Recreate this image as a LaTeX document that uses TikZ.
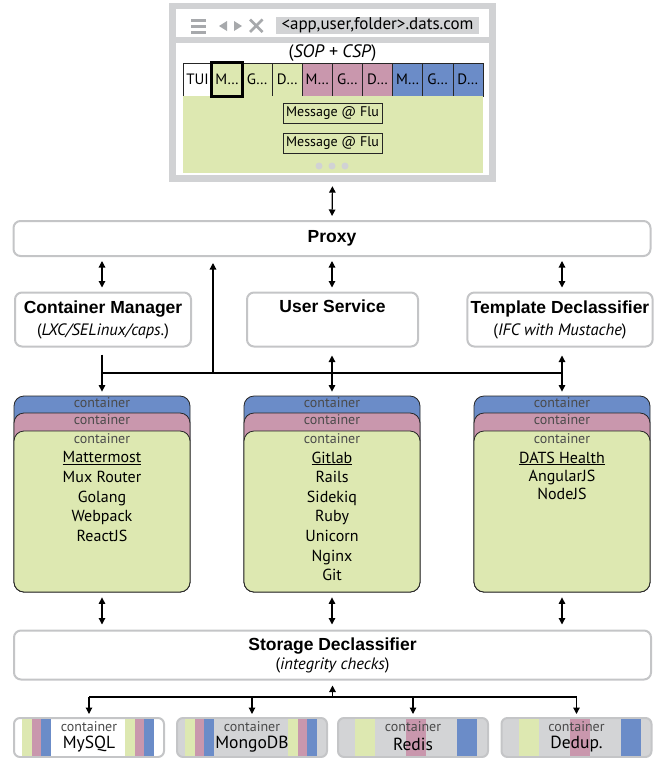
\documentclass[tikz,border=0pt]{standalone}
\usepackage{fontspec}
\setmainfont{PT Sans}
\newfontfamily\hvfont{Liberation Sans}
\usetikzlibrary{arrows.meta}

\definecolor{framegray}{HTML}{D1D2D4}
\definecolor{urlgray}{HTML}{D2D3D5}
\definecolor{icongray}{HTML}{A7A9AC}
\definecolor{boxgray}{HTML}{C4C5C7}
\definecolor{dbgray}{HTML}{D3D4D6}
\definecolor{appgreen}{HTML}{DDE8B1}
\definecolor{apppink}{HTML}{C997AD}
\definecolor{appblue}{HTML}{6B8CC8}
\definecolor{labgray}{HTML}{4A4A4A}

\newcommand{\titlefont}{\hvfont\bfseries\fontsize{17.5}{20}\selectfont}
\newcommand{\subfont}{\fontsize{16.5}{18}\selectfont}
% thin stripes of the sql stores, #1 = left edge of the box
\newcommand{\dbstripes}[1]{
	\foreach \o/\c in {8/appgreen,17.5/apppink,27/appblue,111/appgreen,120.5/apppink,130/appblue}
	{
		\fill[\c] (#1+\o,719) rectangle (#1+\o+9.5,756);
	}
}
% wide stripes of the key-value stores
\newcommand{\kvstripes}[1]{
	\foreach \o/\c in {17/appgreen,68/apppink,119/appblue}
	{
		\fill[\c] (#1+\o,719) rectangle (#1+\o+20,756);
	}
}

\begin{document}
\begin{tikzpicture}[x=1pt,y=-1pt,
	box/.style={draw=boxgray,line width=2pt,rounded corners=7pt,fill=white,align=center,
		font=\fontsize{13}{22}\selectfont},
	layer/.style={draw=black!85,line width=0.8pt,rounded corners=10pt,minimum width=176pt,inner sep=0pt},
	ctext/.style={font=\fontsize{14}{16}\selectfont,text=labgray},
	apps/.style={align=center,inner sep=0pt,anchor=north,font=\fontsize{16}{19.6}\selectfont},
	db/.style={draw=boxgray,line width=2pt,rounded corners=6pt,minimum width=150pt,minimum height=39pt,inner sep=0pt},
	dbtext/.style={align=center,inner sep=0pt,font=\fontsize{17.5}{18}\selectfont},
	tab/.style={draw=black!85,line width=0.6pt,minimum width=30.1pt,minimum height=33pt,inner sep=0pt,
		font=\fontsize{15}{16}\selectfont},
	msg/.style={draw=black!85,fill=appgreen,line width=0.8pt,minimum width=99pt,minimum height=20pt,inner sep=0pt,
		font=\fontsize{14}{15}\selectfont},
	arr/.style={-{Triangle[length=6.5pt,width=6.5pt]},line width=1.2pt},
	darr/.style={{Triangle[length=6.5pt,width=6.5pt]}-{Triangle[length=6.5pt,width=6.5pt]},line width=1.2pt,
		shorten <=4pt,shorten >=4pt}]
	\useasboundingbox (0,0) rectangle (655,758);

	% browser window
	\node[fill=framegray,minimum width=327pt,minimum height=179pt,inner sep=0pt] (browser) at (332.5,92.5) {};
	\fill[white] (176,9) rectangle (489,37);
	\fill[white] (176,43) rectangle (489,175);
	\foreach \y in {18.5,24.5,30.5}
	{
		\fill[icongray] (191,\y) rectangle (206,\y+3.8);
	}
	\fill[icongray] (227,21) -- (227,31) -- (219,26) -- cycle;
	\fill[icongray] (234,21) -- (234,31) -- (242,26) -- cycle;
	\draw[icongray,line width=2.8pt] (250,19.5) -- (262.5,32) (250,32) -- (262.5,19.5);
	\node[fill=urlgray,minimum width=203pt,minimum height=17pt,inner sep=0pt,font=\fontsize{17}{18}\selectfont]
		(url) at (377.5,25.5) {<app,user,folder>.dats.com};
	\node[font=\fontsize{18}{19}\selectfont] (policy) at (332.5,53) {(\textit{SOP + CSP})};

	\node[tab,fill=white,minimum width=29pt] (tui) at (197.5,79.5) {TUI};
	\foreach \t/\c [count=\i from 0] in {M…/appgreen,G…/appgreen,D…/appgreen,M…/apppink,G…/apppink,D…/apppink,M…/appblue,G…/appblue,D…/appblue}
	{
		\node[tab,fill=\c] (tab\i) at (227.05+30.1*\i,79.5) {\t};
	}
	\fill[appgreen] (183,95.6) rectangle (483,173);
	\draw[line width=2.6pt] (tab0.south west) rectangle (tab0.north east);
	\node[msg] (msg1) at (332.5,113) {Message @ Flu};
	\node[msg] (msg2) at (332.5,143) {Message @ Flu};
	\foreach \x in {319,332,345}
	{
		\fill[framegray] (\x,166) circle (3.5pt);
	}

	% proxy and services
	\node[box,minimum width=637pt,minimum height=35pt] (proxy) at (332,238.5) {\titlefont Proxy};
	\node[box,minimum width=176pt,minimum height=54pt] (cm) at (103,319.5)
		{{\titlefont Container Manager}\\{\subfont(\textit{LXC/SELinux/caps.})}};
	\node[box,minimum width=171pt,minimum height=54pt] (user) at (332.5,319.5)
		{{\titlefont User Service}\\{\subfont\strut}};
	\node[box,minimum width=178pt,minimum height=54pt] (td) at (560,319.5)
		{{\titlefont Template Declassifier}\\{\subfont(\textit{IFC with Mustache})}};

	% application containers
	\foreach \n/\x in {L/102,M/332,R/562}
	{
		\node[layer,fill=appblue,minimum height=196pt] (blue\n) at (\x,494) {};
		\node[layer,fill=apppink,minimum height=179pt] (pink\n) at (\x,502.5) {};
		\node[layer,fill=appgreen,minimum height=161pt] (green\n) at (\x,511.5) {};
		\node[ctext] (bluet\n) at (\x,403) {container};
		\node[ctext] (pinkt\n) at (\x,420) {container};
		\node[ctext] (greent\n) at (\x,438.5) {container};
	}
	\node[apps] (appsL) at (102,451.5) {\underline{Mattermost}\\Mux Router\\Golang\\Webpack\\ReactJS};
	\node[apps] (appsM) at (332,451.5) {\underline{Gitlab}\\Rails\\Sidekiq\\Ruby\\Unicorn\\Nginx\\Git};
	\node[apps,font=\fontsize{16}{18.3}\selectfont] (appsR) at (562,451.5) {\underline{DATS Health}\\AngularJS\\NodeJS};

	% storage
	\node[box,minimum width=637pt,minimum height=49pt] (store) at (332.5,655)
		{{\titlefont Storage Declassifier}\\[-3pt]{\subfont(\textit{integrity checks})}};
	\node[db,fill=white] (mysql) at (89,737.5) {};
	\node[db,fill=dbgray] (mongo) at (252,737.5) {};
	\node[db,fill=dbgray] (redis) at (413,737.5) {};
	\node[db,fill=dbgray] (dedup) at (576.5,737.5) {};
	\dbstripes{14}
	\dbstripes{177}
	\kvstripes{338}
	\kvstripes{501.5}
	\foreach \d/\t in {mysql/MySQL,mongo/MongoDB,redis/Redis,dedup/Dedup.}
	{
		\node[ctext] (\d c) at (\d.center |- 0,727) {container};
		\node[dbtext] (\d t) at (\d.center |- 0,744) {\t};
	}

	% connectors
	\coordinate (bus) at (0,373);
	\coordinate (tap) at (213,373);
	\coordinate (dbbus) at (0,697);
	\draw[darr] (browser.south) -- (proxy.north);
	\draw[darr] (blueL.north |- proxy.south) -- (blueL.north |- cm.north);
	\draw[darr] (blueM.north |- proxy.south) -- (blueM.north |- user.north);
	\draw[darr] (blueR.north |- proxy.south) -- (blueR.north |- td.north);
	\draw[line width=1.2pt] (blueL.north |- bus) -- (blueR.north |- bus);
	\draw[arr,shorten <=7pt,shorten >=4pt] (blueL.north |- cm.south) -- (blueL.north);
	\draw[darr,shorten <=8pt,shorten >=4pt] (blueM.north |- user.south) -- (blueM.north);
	\draw[darr,shorten <=8pt,shorten >=4pt] (blueR.north |- td.south) -- (blueR.north);
	\draw[arr,shorten >=6pt] (tap) -- (tap |- proxy.south);
	\foreach \n in {L,M,R}
	{
		\draw[darr,shorten <=5pt,shorten >=5pt] (green\n.south) -- (green\n.south |- store.north);
	}
	\draw[arr,shorten >=5pt] (store.south |- dbbus) -- (store.south);
	\draw[line width=1.2pt] (mysql.north |- dbbus) -- (dedup.north |- dbbus);
	\foreach \d in {mysql,mongo,redis,dedup}
	{
		\draw[arr,shorten >=3pt] (\d.north |- dbbus) -- (\d.north);
	}
\end{tikzpicture}
\end{document}
